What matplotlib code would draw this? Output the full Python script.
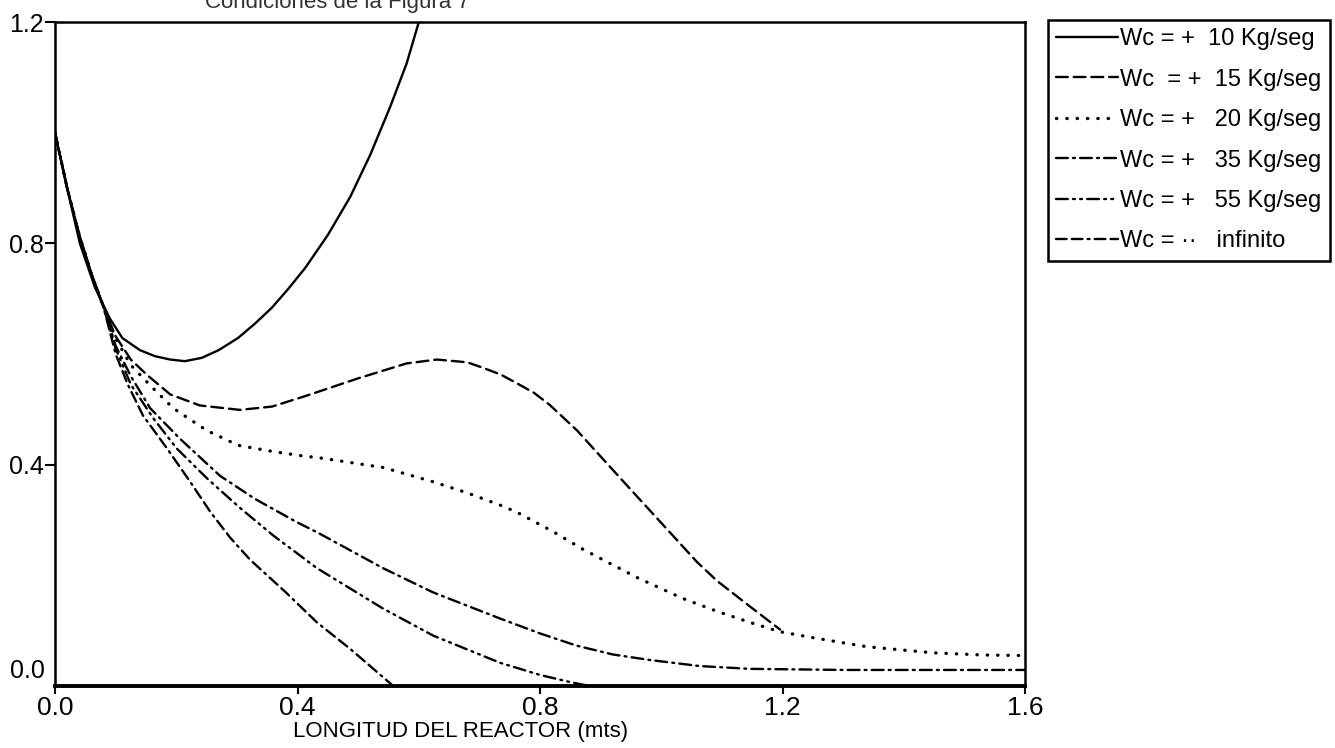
import matplotlib
matplotlib.use('Agg')
import matplotlib.pyplot as plt
from matplotlib import transforms

plt.rcParams['font.family'] = ['Liberation Sans', 'DejaVu Sans']

# conversion profiles along the reactor for each cooling flow
x_10 = [0, 0.02, 0.041, 0.066, 0.09, 0.111, 0.14, 0.165, 0.19, 0.214, 0.242, 0.27,
        0.302, 0.33, 0.358, 0.385, 0.413, 0.45, 0.487, 0.52, 0.553, 0.58, 0.602]
y_10 = [1.0, 0.9, 0.8, 0.72, 0.665, 0.629, 0.607, 0.596, 0.59, 0.587, 0.593, 0.607,
        0.629, 0.655, 0.684, 0.718, 0.756, 0.815, 0.884, 0.96, 1.047, 1.125, 1.207]

x_15 = [0, 0.02, 0.04, 0.06, 0.08, 0.1, 0.125, 0.152, 0.19, 0.239, 0.305, 0.358, 0.413,
        0.5, 0.58, 0.63, 0.68, 0.706, 0.735, 0.762, 0.79, 0.816, 0.861, 0.899, 0.953, 1.009,
        1.059, 1.092, 1.146, 1.196]
y_15 = [1.0, 0.9, 0.815, 0.745, 0.685, 0.632, 0.59, 0.562, 0.527, 0.507, 0.499, 0.505,
        0.524, 0.556, 0.583, 0.59, 0.585, 0.575, 0.563, 0.547, 0.53, 0.508, 0.462, 0.416,
        0.351, 0.284, 0.224, 0.19, 0.144, 0.102]

x_20 = [0, 0.02, 0.04, 0.06, 0.08, 0.1, 0.125, 0.16, 0.195, 0.25, 0.302, 0.358, 0.407,
        0.432, 0.541, 0.624, 0.68, 0.734, 0.762, 0.82, 0.871, 0.96, 1.036, 1.092, 1.146,
        1.196, 1.257, 1.339, 1.448, 1.531, 1.6]
y_20 = [1.0, 0.9, 0.815, 0.745, 0.685, 0.628, 0.58, 0.54, 0.502, 0.462, 0.435, 0.424, 0.416,
        0.413, 0.395, 0.369, 0.349, 0.327, 0.314, 0.28, 0.247, 0.196, 0.158, 0.135, 0.115,
        0.098, 0.086, 0.071, 0.06, 0.056, 0.055]

x_35 = [0, 0.02, 0.04, 0.06, 0.08, 0.1, 0.125, 0.157, 0.206, 0.272, 0.33, 0.399, 0.432,
        0.541, 0.624, 0.734, 0.8, 0.86, 0.92, 0.981, 1.064, 1.146, 1.3, 1.6]
y_35 = [1.0, 0.9, 0.815, 0.745, 0.685, 0.615, 0.56, 0.502, 0.447, 0.38, 0.338, 0.296, 0.278,
        0.213, 0.169, 0.122, 0.095, 0.073, 0.057, 0.047, 0.036, 0.031, 0.029, 0.029]

x_55 = [0, 0.02, 0.04, 0.06, 0.08, 0.1, 0.125, 0.162, 0.201, 0.251, 0.305, 0.36, 0.432,
        0.541, 0.624, 0.734, 0.8, 0.85, 0.882]
y_55 = [1.0, 0.9, 0.815, 0.745, 0.685, 0.61, 0.545, 0.484, 0.429, 0.375, 0.322, 0.272, 0.213,
        0.14, 0.091, 0.042, 0.02, 0.007, 0.0]

x_inf = [0, 0.02, 0.04, 0.06, 0.08, 0.1, 0.12, 0.145, 0.185, 0.223, 0.256, 0.289, 0.322,
         0.38, 0.432, 0.487, 0.558]
y_inf = [1.0, 0.9, 0.815, 0.745, 0.685, 0.6, 0.545, 0.489, 0.429, 0.369, 0.315, 0.268, 0.228,
         0.17, 0.115, 0.067, 0.0]

labels = ['Wc = +  10 Kg/seg', 'Wc  = +  15 Kg/seg', 'Wc = +   20 Kg/seg',
          'Wc = +   35 Kg/seg', 'Wc = +   55 Kg/seg', 'Wc = \u00b7\u00b7   infinito']
styles = ['-', (0, (5, 2.5)), (0, (0.1, 3.0)), (0, (5, 2.2, 0.8, 2.2)),
          (0, (5, 2.2, 0.8, 2.2, 0.8, 2.2)), (0, (4.5, 2.2, 4.5, 2.2, 0.8, 2.2))]

fig = plt.figure(figsize=(13.35, 7.48), dpi=100)
ax = fig.add_axes([55 / 1335, 62 / 748, 970 / 1335, 664 / 748])

series = [(x_10, y_10), (x_15, y_15), (x_20, y_20), (x_35, y_35), (x_55, y_55), (x_inf, y_inf)]
for (xs, ys), ls, lab in zip(series, styles, labels):
    lw = 2.4 if ls == (0, (0.1, 3.0)) else 1.7
    ax.plot(xs, ys, color='black', lw=lw, linestyle=ls, label=lab,
            dash_capstyle='round', solid_capstyle='round', solid_joinstyle='round',
            dash_joinstyle='round')

ax.set_xlim(0, 1.6)
ax.set_ylim(0, 1.2)
for side in ['left', 'right', 'top']:
    ax.spines[side].set_linewidth(1.8)
ax.spines['bottom'].set_linewidth(2.8)

ax.set_xticks([0.0, 0.4, 0.8, 1.2, 1.6])
ax.set_xticklabels(['0.0', '0.4', '0.8', '1.2', '1.6'], fontsize=19)
ax.set_yticks([0.4, 0.8, 1.2])
ax.set_yticklabels(['0.4', '0.8', '1.2'], fontsize=18)
ax.tick_params(axis='x', direction='out', length=6, width=1.5, pad=1)
ax.tick_params(axis='y', direction='out', length=7, width=1.5, pad=1)

# zero label sits above the axis line, without a tick
ax.text(-0.01, 0.028, '0.0', fontsize=18, ha='right', va='center',
        transform=transforms.blended_transform_factory(ax.transAxes, ax.transData))

ax.set_xlabel('LONGITUD DEL REACTOR (mts)', fontsize=16)
ax.xaxis.set_label_coords(0.418, -0.053)

fig.text(205 / 1335, 1 - 8 / 748, 'Condiciones de la Figura 7', fontsize=16,
         color='#333333', ha='left', va='baseline')

leg = ax.legend(loc='upper left', bbox_to_anchor=(1048 / 1335, 728 / 748),
                bbox_transform=fig.transFigure, fontsize=17, handlelength=2.6,
                handletextpad=0.1, labelspacing=0.78, borderpad=0.35,
                fancybox=False, framealpha=1, borderaxespad=0)
leg.get_frame().set_edgecolor('black')
leg.get_frame().set_linewidth(1.8)

plt.savefig('out.png', dpi=100)
